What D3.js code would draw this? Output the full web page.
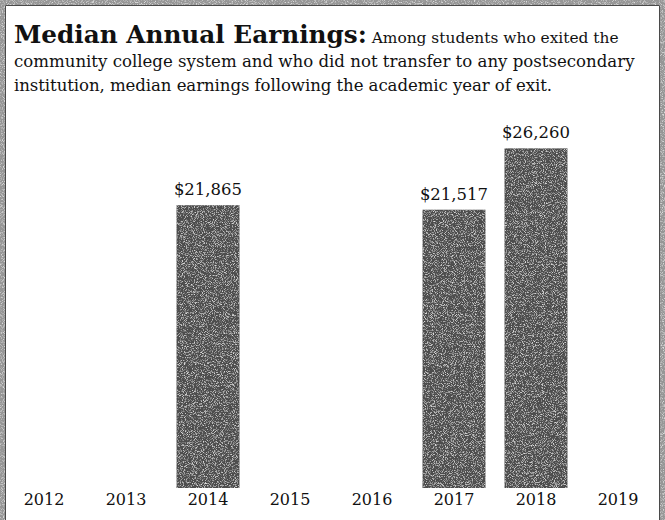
<!DOCTYPE html>
<html>
<head>
<meta charset="utf-8">
<script src="https://cdn.jsdelivr.net/npm/d3@7"></script>
<style>
  html, body { margin: 0; padding: 0; background: #fff; }
  svg { display: block; }
</style>
</head>
<body>
<script>
// Median annual earnings by academic year of exit
const years = ["2012", "2013", "2014", "2015", "2016", "2017", "2018", "2019"];
const earnings = [null, null, 21865, null, null, 21517, 26260, null];
const titleBold = "Median Annual Earnings:";
const titleLines = [
  " Among students who exited the",
  "community college system and who did not transfer to any postsecondary",
  "institution, median earnings following the academic year of exit."
];

const W = 665, H = 520;
const serif = "'DejaVu Serif', 'Liberation Serif', serif";

const svg = d3.select("body").append("svg")
  .attr("width", W).attr("height", H);

// Printed grain: pale specks laid over a dark fill
const defs = svg.append("defs");
const grain = defs.append("filter").attr("id", "grain")
  .attr("x", 0).attr("y", 0).attr("width", "100%").attr("height", "100%");
grain.append("feTurbulence").attr("type", "fractalNoise")
  .attr("baseFrequency", 1.1).attr("numOctaves", 2).attr("seed", 7).attr("result", "noise");
grain.append("feColorMatrix").attr("in", "noise").attr("type", "matrix")
  .attr("values", "0 0 0 0 0.72  0 0 0 0 0.72  0 0 0 0 0.72  3.2 0 0 0 -1.6")
  .attr("result", "specks");
grain.append("feComposite").attr("in", "specks").attr("in2", "SourceGraphic")
  .attr("operator", "in").attr("result", "clipped");
const merge = grain.append("feMerge");
merge.append("feMergeNode").attr("in", "SourceGraphic");
merge.append("feMergeNode").attr("in", "clipped");

// Frame around the panel
const frame = svg.append("g");
[[0, 0, W, 5], [0, 0, 5, H], [W - 5, 0, 5, H]].forEach(([fx, fy, fw, fh]) => {
  frame.append("rect").attr("x", fx).attr("y", fy).attr("width", fw).attr("height", fh)
    .attr("fill", "#969696").attr("filter", "url(#grain)");
});
frame.append("path")
  .attr("d", `M5.5,${H} V5.5 H${W - 5.5} V${H}`)
  .attr("fill", "none").attr("stroke", "#4a4a4a").attr("stroke-width", 1);

// Heading block
const head = svg.append("text").attr("font-family", serif).attr("fill", "#111");
const line1 = head.append("tspan").attr("x", 14).attr("y", 43);
const boldSpan = line1.append("tspan").attr("font-weight", "bold").attr("font-size", 22).text(titleBold);
const restSpan = line1.append("tspan").attr("font-size", 16).text(titleLines[0]);
const line2 = head.append("tspan").attr("x", 14).attr("y", 67).attr("font-size", 16).text(titleLines[1]);
const line3 = head.append("tspan").attr("x", 14).attr("y", 91).attr("font-size", 16).text(titleLines[2]);

// Size the heading fonts to the panel width
const bodySize = 16 * 621 / line2.node().getComputedTextLength();
line2.attr("font-size", bodySize);
line3.attr("font-size", bodySize);
const boldSize = 22 * 353 / boldSpan.node().getComputedTextLength();
boldSpan.attr("font-size", boldSize);
restSpan.attr("font-size", bodySize * 0.93);
line3.attr("textLength", 538).attr("lengthAdjust", "spacing");

// Scales
const x = d3.scaleBand().domain(years).range([3, 659])
  .paddingInner(0.232).paddingOuter(0.116);
const y = d3.scaleLinear().domain([0, 30000]).range([488, 100]);

const data = years.map((yr, i) => ({ year: yr, value: earnings[i] }))
  .filter(d => d.value != null);

// Bars
svg.append("g").selectAll("rect").data(data).join("rect")
  .attr("x", d => x(d.year))
  .attr("y", d => y(d.value))
  .attr("width", x.bandwidth())
  .attr("height", d => y(0) - y(d.value))
  .attr("fill", "#4e4e4e")
  .attr("filter", "url(#grain)");

// Value labels
svg.append("g").selectAll("text").data(data).join("text")
  .attr("x", d => x(d.year) + x.bandwidth() / 2)
  .attr("y", d => y(d.value) - 10)
  .attr("text-anchor", "middle")
  .attr("font-family", serif)
  .attr("font-size", 16.5)
  .attr("fill", "#111")
  .text(d => d3.format("$,")(d.value));

// Year axis
const axis = svg.append("g").attr("transform", `translate(0,${y(0)})`)
  .call(d3.axisBottom(x).tickSize(0));
axis.select(".domain").remove();
axis.selectAll("text")
  .attr("dy", null).attr("y", 17)
  .attr("font-family", serif).attr("font-size", 16).attr("fill", "#111");
</script>
</body>
</html>
